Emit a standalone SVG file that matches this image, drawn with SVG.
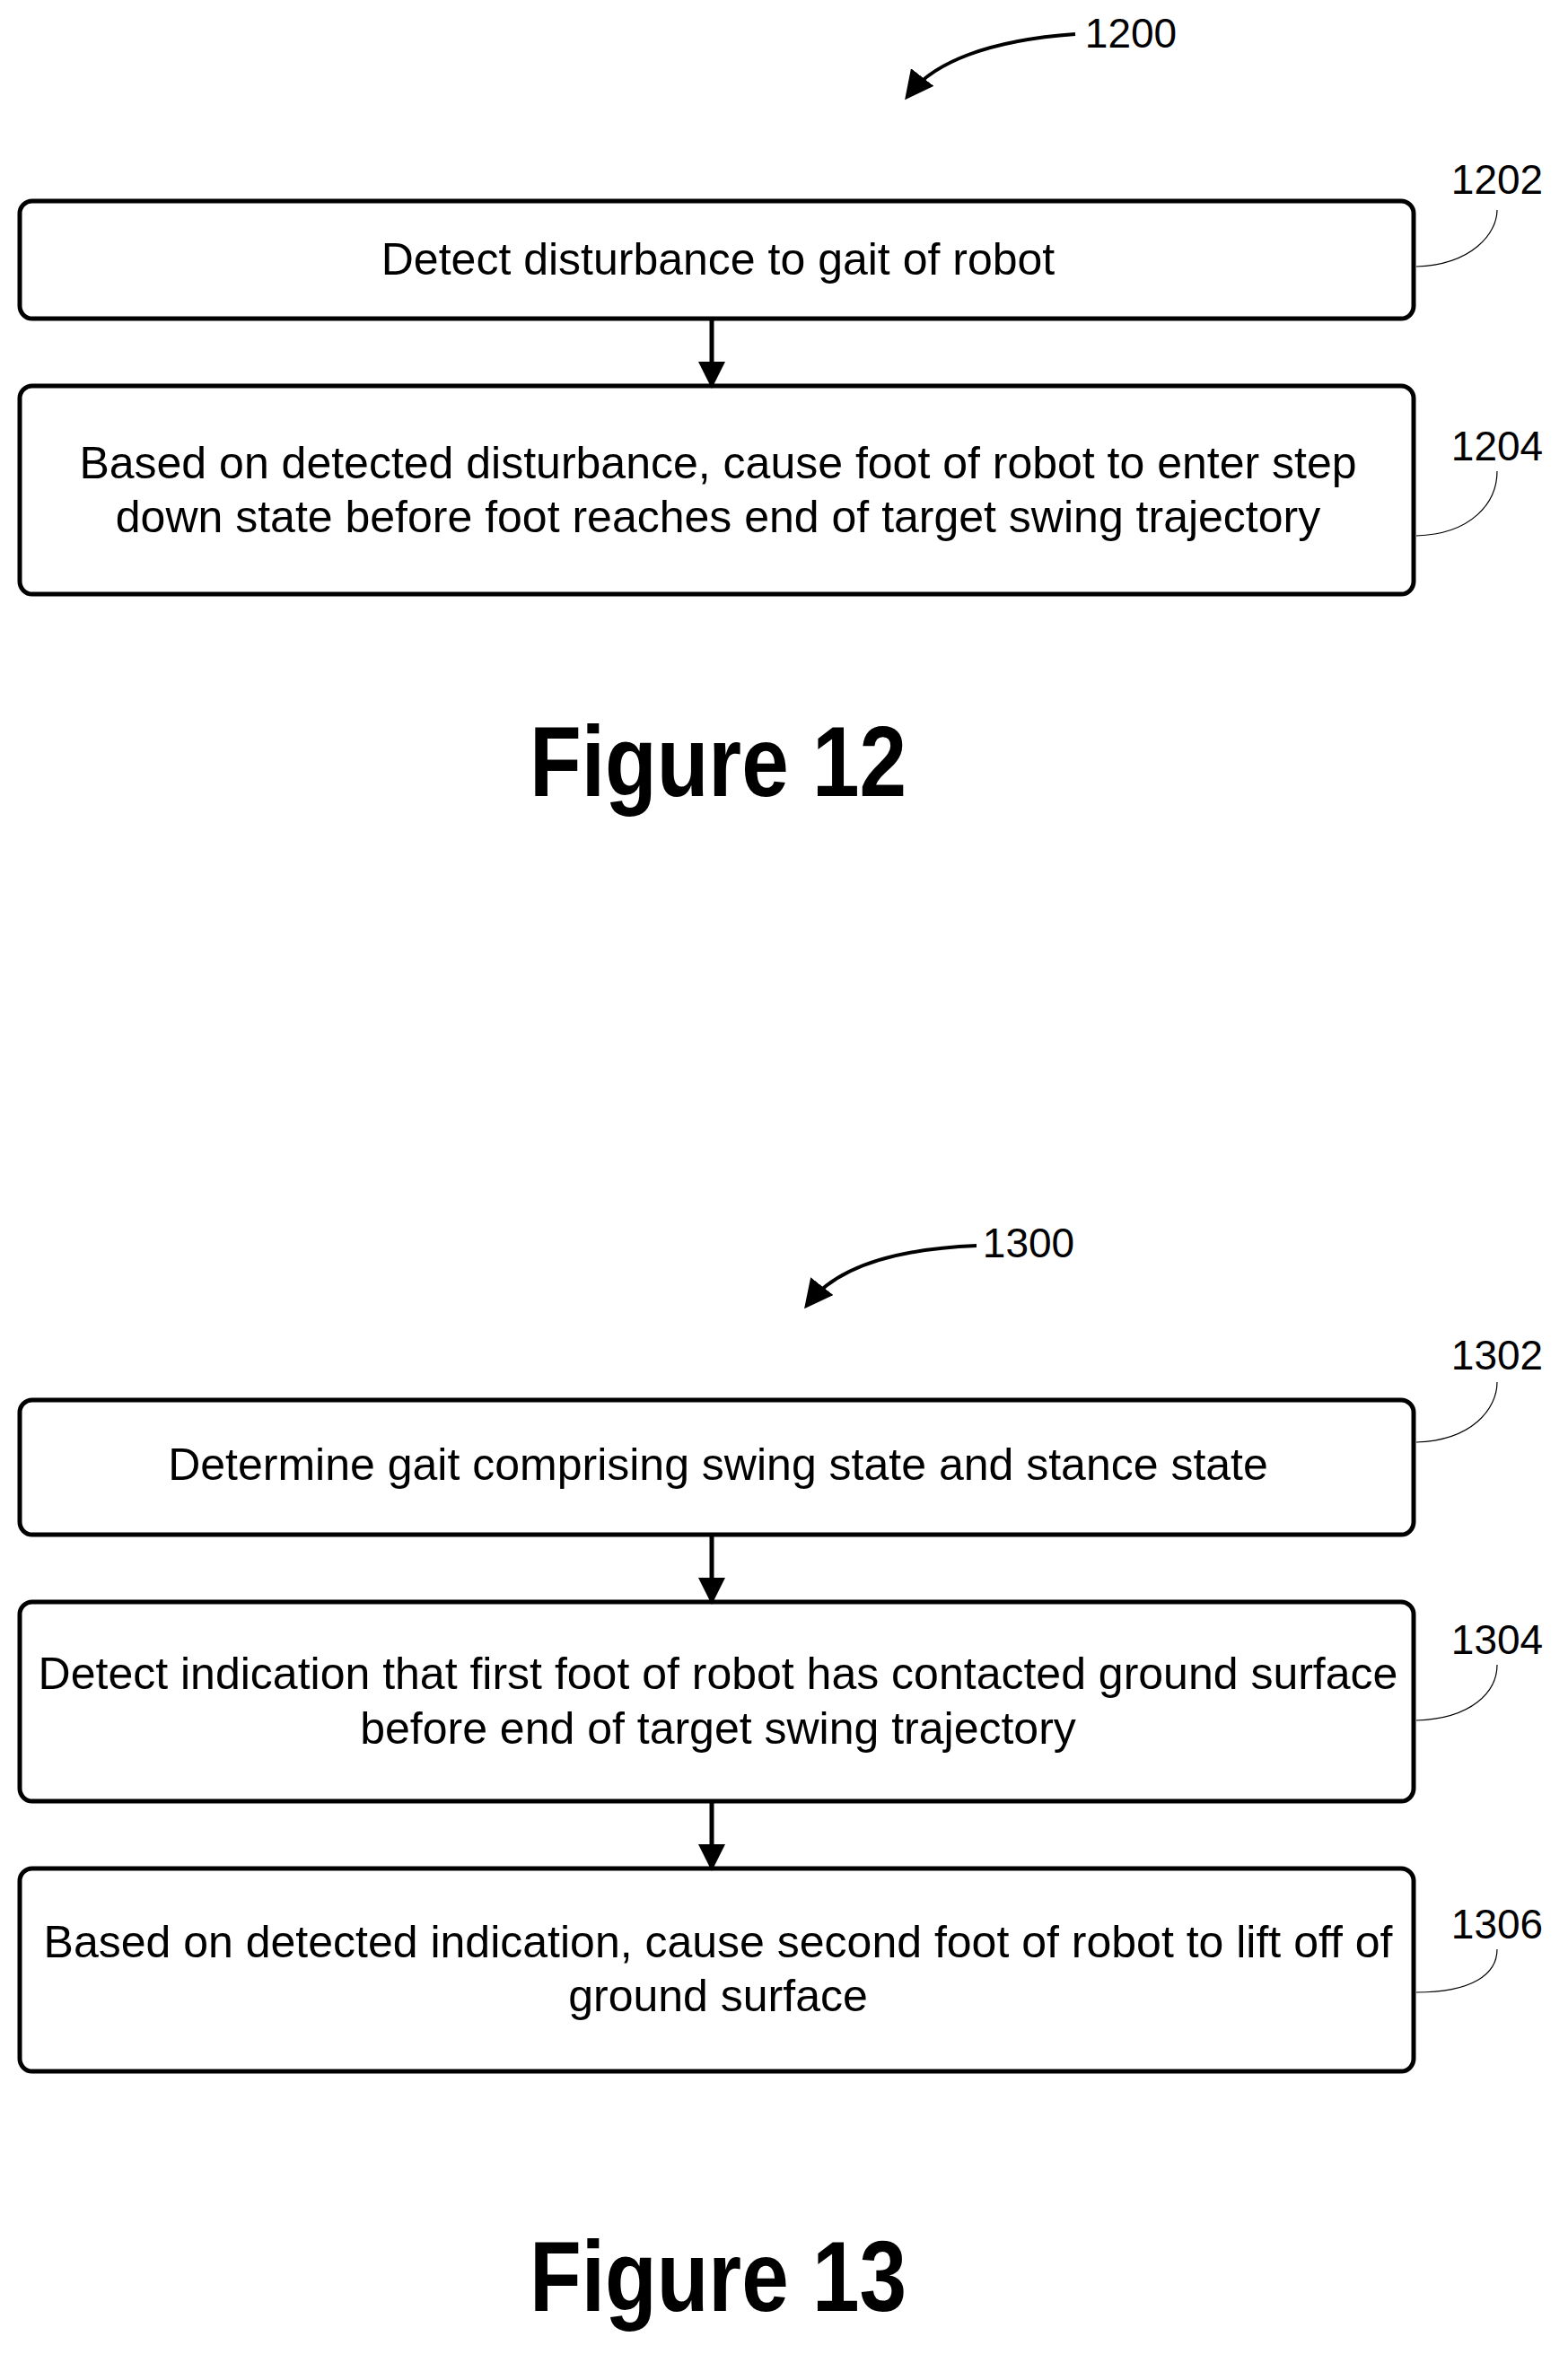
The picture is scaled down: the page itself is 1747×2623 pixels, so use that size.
<svg xmlns="http://www.w3.org/2000/svg" width="1747" height="2623" viewBox="0 0 1747 2623">
<style>
.box{fill:#fff;stroke:#000;stroke-width:5}
.t{font-family:"Liberation Sans",Arial,sans-serif;font-size:50px;text-anchor:middle;dominant-baseline:central}
.n{font-family:"Liberation Sans",Arial,sans-serif;font-size:46px;text-anchor:middle;dominant-baseline:central}
.lead{fill:none;stroke:#000;stroke-width:1.2}
.con{stroke:#000;stroke-width:5;fill:none}
.fig{font-family:"Liberation Sans",sans-serif;font-weight:bold;font-size:112px;text-anchor:middle;dominant-baseline:central}
</style>
<defs>
<marker id="ah" markerWidth="6" markerHeight="6" refX="5" refY="3" orient="auto" markerUnits="strokeWidth"><path d="M0,0L6,3L0,6Z" fill="#000"/></marker>
<marker id="ah2" markerWidth="8" markerHeight="8" refX="6" refY="4" orient="auto" markerUnits="strokeWidth"><path d="M0,0L8,4L0,8Z" fill="#000"/></marker>
</defs>
<rect width="1747" height="2623" fill="#fff"/>
<g id="n1200"><text class="n" x="1260" y="37">1200</text><path class="con" d="M1198,38 C1100,45 1040,70 1013,105" style="stroke-width:4" marker-end="url(#ah2)"/></g>
<g id="n1202"><rect class="box" x="22" y="224" width="1553" height="131" rx="14"/><text class="t" x="800" y="289">Detect disturbance to gait of robot</text><text class="n" x="1668" y="200">1202</text><path class="lead" d="M1578,297 C1640,295 1668,260 1668,234"/></g>
<g id="n1204"><rect class="box" x="22" y="430" width="1553" height="232" rx="14"/><text class="t" x="800" y="516">Based on detected disturbance, cause foot of robot to enter step</text><text class="t" x="800" y="576">down state before foot reaches end of target swing trajectory</text><text class="n" x="1668" y="497">1204</text><path class="lead" d="M1578,597 C1640,595 1668,560 1668,525"/></g>
<text class="fig" x="800" y="848" textLength="420" lengthAdjust="spacingAndGlyphs">Figure 12</text>
<g id="n1300"><text class="n" x="1146" y="1385">1300</text><path class="con" d="M1088,1388 C990,1392 930,1415 901,1452" style="stroke-width:4" marker-end="url(#ah2)"/></g>
<g id="n1302"><rect class="box" x="22" y="1560" width="1553" height="150" rx="14"/><text class="t" x="800" y="1632">Determine gait comprising swing state and stance state</text><text class="n" x="1668" y="1510">1302</text><path class="lead" d="M1578,1607 C1640,1605 1668,1570 1668,1540"/></g>
<g id="n1304"><rect class="box" x="22" y="1785" width="1553" height="222" rx="14"/><text class="t" x="800" y="1865">Detect indication that first foot of robot has contacted ground surface</text><text class="t" x="800" y="1926">before end of target swing trajectory</text><text class="n" x="1668" y="1827">1304</text><path class="lead" d="M1578,1917 C1640,1915 1668,1885 1668,1855"/></g>
<g id="n1306"><rect class="box" x="22" y="2082" width="1553" height="226" rx="14"/><text class="t" x="800" y="2164">Based on detected indication, cause second foot of robot to lift off of</text><text class="t" x="800" y="2224">ground surface</text><text class="n" x="1668" y="2144">1306</text><path class="lead" d="M1578,2220 C1640,2220 1668,2200 1668,2172"/></g>
<text class="fig" x="800" y="2536" textLength="420" lengthAdjust="spacingAndGlyphs">Figure 13</text>
<g id="connectors">
<line class="con" x1="793" y1="355" x2="793" y2="428" marker-end="url(#ah)"/>
<line class="con" x1="793" y1="1710" x2="793" y2="1783" marker-end="url(#ah)"/>
<line class="con" x1="793" y1="2007" x2="793" y2="2080" marker-end="url(#ah)"/>
</g>
</svg>
